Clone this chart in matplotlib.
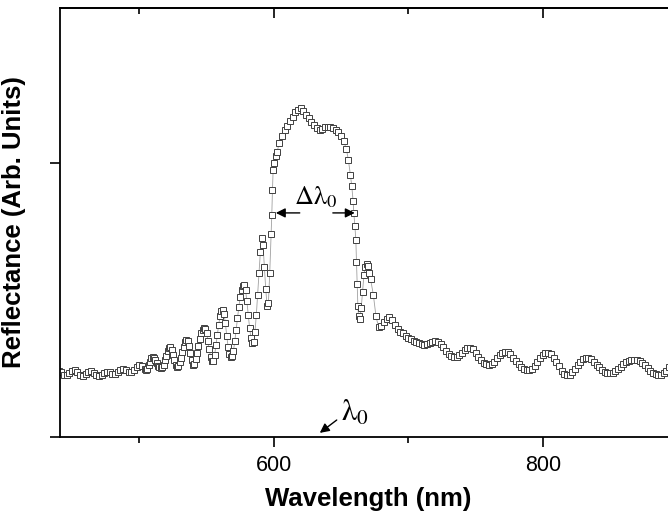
import numpy as np
import matplotlib
matplotlib.use('Agg')
import matplotlib.pyplot as plt

plt.rcParams['font.family'] = ['Liberation Sans', 'DejaVu Sans']
plt.rcParams['mathtext.fontset'] = 'stix'

# reflectance spectrum (arb. units)
wavelength = [
    440, 442, 444, 446, 448, 450, 452, 454, 456, 458, 460, 462, 464, 466, 468, 470,
    472, 474, 476, 478, 480, 482, 484, 486, 488, 490, 492, 494, 496, 498, 500, 502,
    504, 505, 506, 507, 508, 509, 510, 511, 512, 513, 514, 515, 516, 517, 518, 519,
    520, 521, 522, 523, 524, 525, 526, 527, 528, 529, 530, 531, 532, 533, 534, 535,
    536, 537, 538, 539, 540, 541, 542, 543, 544, 545, 546, 547, 548, 549, 550, 551,
    552, 553, 554, 555, 556, 557, 558, 559, 560, 561, 562, 563, 564, 565, 566, 567,
    568, 569, 570, 571, 572, 573, 574, 575, 576, 577, 578, 579, 580, 581, 582, 583,
    584, 585, 586, 587, 588, 589, 590, 591, 592, 593, 594, 595, 596, 597, 598, 598.5,
    599, 599.5, 600.5, 601.5, 602.5, 604, 606, 608, 610, 612, 614, 616, 618, 620, 622, 624,
    626, 628, 630, 632, 634, 636, 638, 640, 642, 644, 646, 648, 650, 652, 654, 655.5,
    657, 658, 659, 659.5, 660.3, 661, 661.5, 662, 662.5, 663, 664, 665, 666, 667, 668, 669,
    670, 671, 672, 674, 676, 678, 680, 682, 684, 686, 688, 690, 692, 694, 696, 698,
    700, 702, 704, 706, 708, 710, 712, 714, 716, 718, 720, 722, 724, 726, 728, 730,
    732, 734, 736, 738, 740, 742, 744, 746, 748, 750, 752, 754, 756, 758, 760, 762,
    764, 766, 768, 770, 772, 774, 776, 778, 780, 782, 784, 786, 788, 790, 792, 794,
    796, 798, 800, 802, 804, 806, 808, 810, 812, 814, 816, 818, 820, 822, 824, 826,
    828, 830, 832, 834, 836, 838, 840, 842, 844, 846, 848, 850, 852, 854, 856, 858,
    860, 862, 864, 866, 868, 870, 872, 874, 876, 878, 880, 882, 884, 886, 888, 890,
    892, 894, 896, 898, 900,
]
reflectance = [
    0.240, 0.236, 0.228, 0.225, 0.232, 0.240, 0.244, 0.238, 0.228, 0.224, 0.229, 0.236, 0.240, 0.234, 0.226, 0.222,
    0.227, 0.235, 0.239, 0.236, 0.230, 0.229, 0.236, 0.245, 0.250, 0.246, 0.239, 0.236, 0.243, 0.255, 0.262, 0.258,
    0.248, 0.245, 0.250, 0.262, 0.275, 0.287, 0.292, 0.289, 0.280, 0.270, 0.261, 0.255, 0.252, 0.254, 0.264, 0.280,
    0.297, 0.314, 0.325, 0.327, 0.318, 0.300, 0.280, 0.263, 0.255, 0.259, 0.272, 0.290, 0.310, 0.330, 0.346, 0.354,
    0.350, 0.332, 0.306, 0.280, 0.264, 0.266, 0.283, 0.307, 0.333, 0.358, 0.378, 0.392, 0.398, 0.396, 0.380, 0.352,
    0.320, 0.292, 0.276, 0.278, 0.300, 0.335, 0.372, 0.410, 0.440, 0.459, 0.464, 0.450, 0.415, 0.370, 0.330, 0.303,
    0.292, 0.294, 0.315, 0.350, 0.392, 0.435, 0.475, 0.510, 0.537, 0.553, 0.556, 0.535, 0.495, 0.445, 0.398, 0.362,
    0.344, 0.348, 0.385, 0.445, 0.520, 0.600, 0.675, 0.728, 0.700, 0.620, 0.540, 0.480, 0.490, 0.600, 0.740, 0.810,
    0.900, 0.974, 1.000, 1.025, 1.040, 1.075, 1.100, 1.120, 1.135, 1.155, 1.168, 1.185, 1.195, 1.200, 1.190, 1.176,
    1.165, 1.150, 1.140, 1.128, 1.120, 1.125, 1.130, 1.132, 1.130, 1.127, 1.122, 1.113, 1.100, 1.080, 1.050, 1.010,
    0.955, 0.915, 0.860, 0.818, 0.770, 0.719, 0.640, 0.560, 0.480, 0.440, 0.432, 0.470, 0.530, 0.590, 0.620, 0.632,
    0.625, 0.600, 0.575, 0.520, 0.440, 0.400, 0.405, 0.420, 0.432, 0.437, 0.428, 0.410, 0.395, 0.385, 0.378, 0.370,
    0.362, 0.356, 0.350, 0.346, 0.342, 0.338, 0.336, 0.338, 0.344, 0.348, 0.349, 0.347, 0.340, 0.328, 0.314, 0.302,
    0.295, 0.291, 0.292, 0.298, 0.308, 0.318, 0.325, 0.326, 0.320, 0.308, 0.293, 0.280, 0.270, 0.265, 0.263, 0.266,
    0.275, 0.287, 0.298, 0.306, 0.310, 0.309, 0.302, 0.290, 0.278, 0.266, 0.256, 0.249, 0.246, 0.245, 0.248, 0.258,
    0.272, 0.287, 0.298, 0.305, 0.307, 0.302, 0.290, 0.274, 0.258, 0.242, 0.231, 0.226, 0.228, 0.236, 0.248, 0.262,
    0.274, 0.284, 0.288, 0.288, 0.283, 0.274, 0.264, 0.254, 0.245, 0.239, 0.235, 0.234, 0.235, 0.240, 0.247, 0.256,
    0.265, 0.272, 0.277, 0.280, 0.281, 0.281, 0.278, 0.271, 0.262, 0.252, 0.242, 0.234, 0.229, 0.226, 0.227, 0.232,
    0.242, 0.254, 0.262, 0.266, 0.266,
]

x_ticks = [600, 800]
x_minor = [500, 700, 900]

fig = plt.figure(figsize=(6.68, 5.16), dpi=100)
ax = fig.add_axes([0.0898, 0.1531, 0.924, 0.8314])

ax.plot(wavelength, reflectance, '-', color='#a0a0a0', lw=0.6, zorder=1)
ax.plot(wavelength, reflectance, 's', ms=4.8, mfc='white', mec='#404040', mew=0.7, zorder=2)

ax.set_xlim(441, 900)
ax.set_ylim(0, 1.566)

ax.set_xticks(x_ticks)
ax.set_xticks(x_minor, minor=True)
ax.set_yticks([0, 1])
ax.set_yticklabels([])
ax.tick_params(axis='x', which='major', direction='out', length=7, width=1.2, labelsize=15.5, pad=6)
ax.tick_params(axis='x', which='minor', direction='out', length=4, width=1.2)
ax.tick_params(axis='y', which='major', direction='out', length=7, width=1.2)

# mirrored ticks on top pointing inward
top = ax.secondary_xaxis('top')
top.set_xticks(x_ticks)
top.set_xticks(x_minor, minor=True)
top.set_xticklabels([])
top.tick_params(axis='x', which='major', direction='in', length=7, width=1.2)
top.tick_params(axis='x', which='minor', direction='in', length=4, width=1.2)
top.spines['top'].set_linewidth(1.3)

for s in ax.spines.values():
    s.set_linewidth(1.3)

ax.set_xlabel('Wavelength (nm)', fontsize=18.5, fontweight='bold', labelpad=8)
ax.set_ylabel('Reflectance (Arb. Units)', fontsize=18.5, fontweight='bold', labelpad=14)

# bandwidth arrows
arr = dict(arrowstyle='-|>', color='black', lw=1.0, mutation_scale=14, shrinkA=0, shrinkB=0)
ax.annotate('', xy=(601.5, 0.818), xytext=(619.3, 0.818), arrowprops=arr)
ax.annotate('', xy=(660.2, 0.818), xytext=(643.9, 0.818), arrowprops=arr)
ax.text(631, 0.83, r'$\mathrm{\Delta\lambda}_{\mathrm{0}}$', fontsize=19, ha='center', va='bottom')

ax.annotate('', xy=(634.2, 0.015), xytext=(646.8, 0.062), arrowprops=arr)
ax.text(650, 0.035, r'$\mathrm{\lambda}_{\mathrm{0}}$', fontsize=22, ha='left', va='bottom')

fig.savefig('out.png', dpi=100)
